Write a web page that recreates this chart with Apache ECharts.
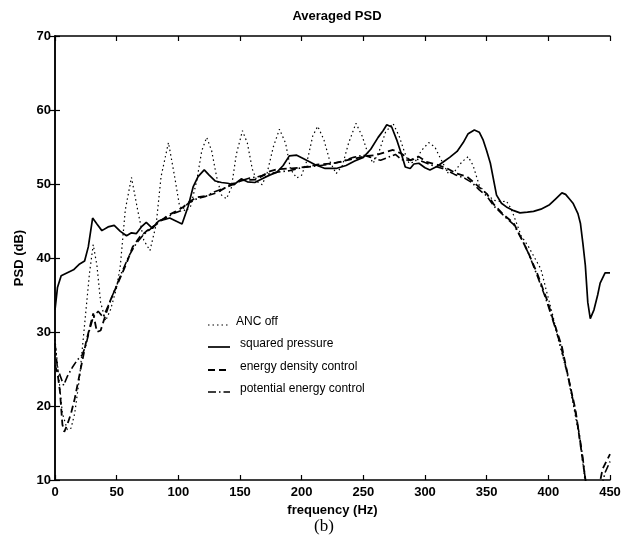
<!DOCTYPE html>
<html>
<head>
<meta charset="utf-8">
<script src="https://cdn.jsdelivr.net/npm/echarts@6/dist/echarts.min.js"></script>
<style>html,body{margin:0;padding:0;background:#fff;}#c{width:634px;height:554px;}</style>
</head>
<body>
<div id="c"></div>
<script>
var xTicks = [0, 50, 100, 150, 200, 250, 300, 350, 400, 450];
var yTicks = [10, 20, 30, 40, 50, 60, 70];
var seriesNames = ['ANC off', 'squared pressure', 'energy density control', 'potential energy control'];

var ancOff = [[0,29],[3,24],[6,19],[10,16.8],[13,17],[16,19],[20,24],[24,31],[28,38],[31,41.8],[34,39],[37,34],[41,31.5],[45,33],[50,36],[53,39],[57,46.5],[62,50.9],[67,46.5],[72,42.4],[77,41],[82,44.5],[86,51],[92,55.6],[97,51],[101,47],[106,46.3],[110,47],[115,50.5],[119,54.5],[123,56.3],[127,54.5],[131,51],[135,48.5],[139,48],[143,49.5],[147,54],[152,57.2],[156,55.5],[160,52],[164,50.3],[168,49.9],[172,51.5],[177,55],[182,57.4],[187,55.5],[191,52],[196,50.8],[200,51.2],[205,53.5],[209,56.5],[213,57.8],[218,56],[223,53],[228,51.4],[233,52.5],[238,55.5],[244,58.2],[249,56.5],[254,54],[258,52.8],[263,54.5],[268,57],[274,58.2],[279,56.5],[283,54.5],[287,52.8],[292,53],[297,54.5],[303,55.6],[308,55],[313,53.3],[319,51.4],[324,51.7],[330,53],[335,53.7],[339,52.5],[344,49.8],[350,48.6],[356,47.8],[362,47.6],[366,47.7],[370,46.6],[374,44.8],[378,43],[384,41.5],[389,40],[394,38.5],[399,35.2],[404,32],[408,29],[412,26.5],[416,23.8],[421,19.5],[425,15.9],[428,12.3],[431,8]];

var squaredPressure = [[0,33],[2,36],[5,37.6],[10,38],[15,38.4],[20,39.2],[24,39.6],[27,41.5],[30.5,45.4],[34,44.6],[38,43.7],[43,44.2],[48,44.4],[53,43.6],[58,43],[62,43.4],[66,43.3],[70,44.2],[74,44.8],[79,44],[84,45],[89,45.2],[93,45.4],[98,45],[103,44.6],[108,47],[112,49.6],[116,51],[121,51.9],[125,51.2],[130,50.4],[135,50.2],[140,50.1],[145,49.9],[151,50.7],[156,50.3],[162,50.2],[168,50.7],[174,51.2],[180,51.6],[185,52.5],[190,53.8],[196,53.9],[204,53.2],[211,52.6],[219,52.1],[228,52.1],[236,52.5],[243,53.1],[250,53.6],[256,54.7],[262,56.3],[266,57.2],[269,58],[273,57.7],[277,56],[281,54],[284,52.3],[288,52.1],[291,52.7],[295,52.8],[300,52.2],[304,51.9],[310,52.4],[315,53],[320,53.6],[326,54.4],[331,55.6],[335,56.8],[340,57.3],[344,57],[347,56],[350,54.5],[353,52.8],[358,48.5],[362,47.4],[366,46.9],[372,46.4],[377,46.1],[383,46.2],[388,46.3],[394,46.6],[401,47.2],[406,48],[411,48.8],[414,48.6],[417,48],[420,47.4],[424,46],[426,44.7],[428,42],[430,39],[432,34],[434,31.8],[437,33],[440,35],[442,36.6],[446,38],[450,38]];

var energyDensity = [[0,25.5],[2,24.5],[4,22],[6,17.5],[7.5,16.5],[10,17.5],[13,19],[16,21],[19,23.5],[22,26],[25,28.5],[28,30.5],[31,32.5],[34,30],[37,30.2],[41,32.3],[45,34.3],[51,36.6],[58,39.3],[63,41.5],[69,42.9],[74,43.6],[80,44.3],[85,44.9],[91,45.7],[98,46.3],[104,46.9],[109,47.6],[115,48.2],[123,48.4],[131,48.8],[142,49.9],[152,50.5],[163,50.6],[169,51.2],[174,51.7],[180,52],[192,52.1],[203,52.3],[212,52.6],[226,52.8],[234,53.1],[242,53.4],[253,53.8],[260,53.9],[266,54.2],[274,54.6],[281,54.1],[288,53.2],[295,53.7],[301,53],[310,52.6],[318,52.1],[326,51.4],[334,51],[339,50.3],[345,49.4],[350,48.7],[356,47.2],[364,45.8],[372,44.7],[377,43],[383,41],[391,37.9],[399,34.3],[404,31.6],[411,28],[416,24],[422,19.5],[425,16],[428,12.5],[431,9],[436,3],[441,9],[444,11.5],[447,12.5],[450,13.5]];

var potentialEnergy = [[0,28.5],[2,25],[4,24.2],[7,22.8],[10,24],[14,25.2],[18,26.2],[22,26.9],[25,28.2],[28,30.3],[31,32],[35,32.8],[39,32],[43,33.5],[48,35.5],[54,38],[60,40.3],[66,42],[72,43.2],[78,44],[84,45],[90,45.4],[96,46],[102,46.4],[108,47.4],[115,48],[122,48.3],[130,49],[140,49.6],[150,50.4],[158,50.8],[165,51],[172,51.3],[180,51.6],[190,51.8],[200,52.2],[210,52.4],[220,52.6],[232,53],[242,53.6],[250,53.9],[258,53.5],[264,53.2],[270,53.6],[276,54],[281,53.3],[287,53.2],[293,53.4],[300,52.9],[308,52.4],[316,52],[324,51.3],[332,50.8],[338,50.2],[344,49.2],[350,48.4],[356,47],[364,45.7],[372,44.5],[378,42.7],[384,40.6],[391,37.6],[398,34.5],[404,31.4],[410,28.2],[416,24],[421,20],[425,16.3],[428,13],[430,10],[433,6],[438,4],[443,9],[446,11],[450,12.5]];

var styles = [
  {type: [1.5, 3], width: 1.2},
  {type: 'solid', width: 1.7},
  {type: [7, 4], width: 1.8},
  {type: [8, 3, 1.5, 3], width: 1.6}
];

var font = '"Liberation Sans", Arial, sans-serif';
var chart = echarts.init(document.getElementById('c'));
var axisLine = {show: true, lineStyle: {color: '#000', width: 1.5}};
var tick = {show: true, inside: true, length: 5, lineStyle: {color: '#000', width: 1.2}};
var lbl = {color: '#000', fontFamily: font, fontWeight: 'bold', fontSize: 13};

function mk(i, data) {
  return {name: seriesNames[i], type: 'line', data: data, showSymbol: false, symbol: 'none',
    smooth: false, clip: true, lineStyle: {color: '#000', width: styles[i].width, type: styles[i].type},
    itemStyle: {color: '#000'}};
}

var legendGraphics = [];
var legendRows = [322, 344, 367, 389];
for (var i = 0; i < 4; i++) {
  legendGraphics.push({type: 'line', shape: {x1: 208, y1: legendRows[i] + 3, x2: 230, y2: legendRows[i] + 3},
    style: {stroke: '#000', lineWidth: styles[i].width, lineDash: styles[i].type === 'solid' ? null : styles[i].type}});
  legendGraphics.push({type: 'text', x: i === 0 ? 236 : 240, y: legendRows[i], style: {text: seriesNames[i],
    font: '12px "Liberation Sans", Arial, sans-serif', fill: '#000', textVerticalAlign: 'middle'}});
}
legendGraphics.push({type: 'text', left: 314, top: 518,
  style: {text: '(b)', font: '17px "Liberation Serif", "DejaVu Serif", serif', fill: '#000'}});

chart.setOption({
  animation: false,
  backgroundColor: '#fff',
  title: {text: 'Averaged PSD', left: 332, top: 5, textAlign: 'center',
    textStyle: {fontFamily: font, fontWeight: 'bold', fontSize: 13, color: '#000'}},
  grid: {left: 55, right: 24, top: 36, bottom: 74},
  legend: {show: false},
  xAxis: [
    {type: 'value', min: 0, max: 450, interval: 50, axisLine: axisLine, axisTick: tick,
      axisLabel: Object.assign({margin: 6}, lbl), splitLine: {show: false},
      name: 'frequency (Hz)', nameLocation: 'middle', nameGap: 16,
      nameTextStyle: {fontFamily: font, fontSize: 13, color: '#000', fontWeight: 'bold', verticalAlign: 'top'}},
    {type: 'value', position: 'top', min: 0, max: 450, interval: 50, axisLine: axisLine, axisTick: tick,
      axisLabel: {show: false}, splitLine: {show: false}}
  ],
  yAxis: [
    {type: 'value', min: 10, max: 70, interval: 10, axisLine: axisLine, axisTick: tick,
      axisLabel: Object.assign({margin: 4}, lbl), splitLine: {show: false},
      name: 'PSD (dB)', nameLocation: 'middle', nameGap: 26, nameRotate: 90,
      nameTextStyle: {fontFamily: font, fontSize: 13, color: '#000', fontWeight: 'bold'}},
    {type: 'value', position: 'right', min: 10, max: 70, interval: 10, axisLine: axisLine, axisTick: tick,
      axisLabel: {show: false}, splitLine: {show: false}}
  ],
  graphic: legendGraphics,
  series: [
    mk(0, ancOff),
    mk(1, squaredPressure),
    mk(2, energyDensity),
    mk(3, potentialEnergy)
  ]
});
</script>
</body>
</html>
